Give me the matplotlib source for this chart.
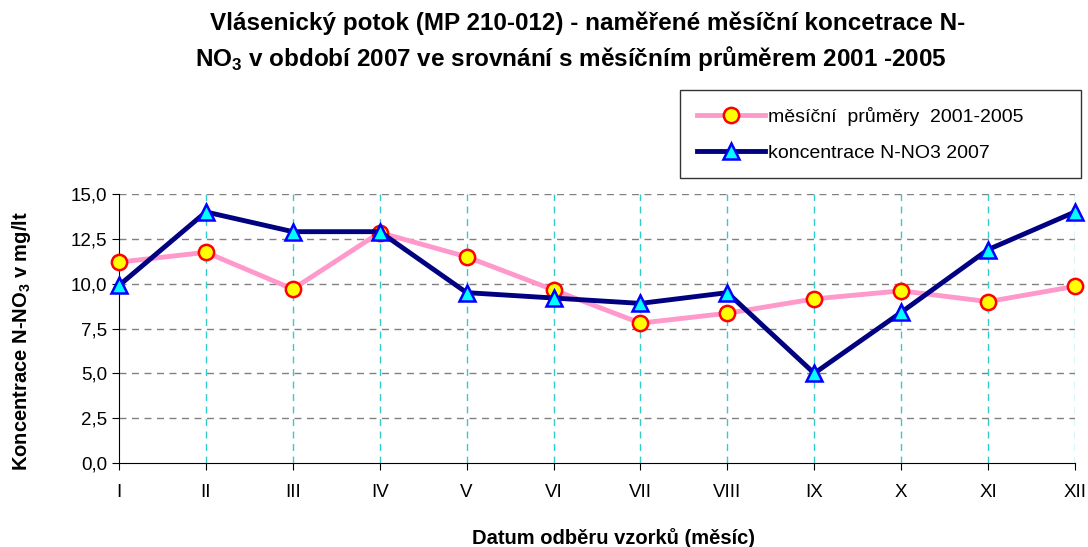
import matplotlib.pyplot as plt
import numpy as np
from matplotlib.ticker import FuncFormatter

plt.rcParams['font.family'] = ['Liberation Sans', 'DejaVu Sans']
plt.rcParams['mathtext.fontset'] = 'custom'
plt.rcParams['mathtext.rm'] = 'Liberation Sans'
plt.rcParams['mathtext.bf'] = 'Liberation Sans:bold'

mesice = ['I', 'II', 'III', 'IV', 'V', 'VI', 'VII', 'VIII', 'IX', 'X', 'XI', 'XII']
prumer_2001_2005 = [11.2, 11.75, 9.7, 12.85, 11.5, 9.65, 7.8, 8.35, 9.15, 9.6, 9.0, 9.85]
konc_2007 = [9.9, 14.0, 12.9, 12.9, 9.5, 9.2, 8.9, 9.5, 5.0, 8.4, 11.9, 14.0]
yticks = [0, 2.5, 5, 7.5, 10, 12.5, 15]

fig = plt.figure(figsize=(10.88, 5.47), dpi=100)
ax = fig.add_axes([0.1094, 0.1536, 0.8786, 0.4917])

x = np.arange(len(mesice))
ax.plot(x, prumer_2001_2005, color='#FF99CC', lw=3.5, marker='o', ms=11,
        mfc='#FFFF00', mec='#FF0000', mew=1.8, clip_on=False, zorder=3,
        label='měsíční  průměry  2001-2005')
ax.plot(x, konc_2007, color='#000080', lw=3.5, marker='^', ms=12,
        mfc='#00FFFF', mec='#0000FF', mew=1.8, clip_on=False, zorder=4,
        label='koncentrace N-NO3 2007')

ax.set_xlim(0, len(mesice) - 1)
ax.set_ylim(0, 15)
ax.set_xticks(x)
ax.set_xticklabels(mesice)
ax.set_yticks(yticks)
ax.yaxis.set_major_formatter(FuncFormatter(lambda v, p: f'{v:.1f}'.replace('.', ',')))
ax.tick_params(axis='both', labelsize=13.5, direction='out', length=5, color='black')
ax.tick_params(axis='x', pad=10)

for v in yticks[1:]:
    ax.axhline(v, color='#808080', lw=1, ls=(0, (5, 4)), zorder=1)
for xi in x[1:]:
    ax.axvline(xi, color='#33CCCC', lw=1, ls=(0, (5, 4)), zorder=1)

ax.spines['top'].set_visible(False)
ax.spines['right'].set_visible(False)

ax.set_ylabel('Koncentrace N-NO$_\\mathbf{3}$ v mg/lt', fontsize=14.5, fontweight='bold')
ax.yaxis.set_label_coords(-0.090, 0.454)
ax.set_xlabel('Datum odběru vzorků (měsíc)', fontsize=14.5, fontweight='bold')
ax.xaxis.set_label_coords(0.517, -0.24)

fig.text(0.54, 0.958, 'Vlásenický potok (MP 210-012) - naměřené měsíční koncetrace N-',
         ha='center', va='center', fontsize=17.5, fontweight='bold')
fig.text(0.525, 0.893, 'NO$_\\mathbf{3}$ v období 2007 ve srovnání s měsíčním průměrem 2001 -2005',
         ha='center', va='center', fontsize=17.5, fontweight='bold')

leg = fig.legend(loc='upper left', bbox_to_anchor=(0.625, 0.835, 0.369, 0.0), mode='expand',
                 bbox_transform=fig.transFigure, borderaxespad=0,
                 fontsize=14, frameon=True, fancybox=False, edgecolor='black',
                 handlelength=3.5, handletextpad=0.2, borderpad=0.85, labelspacing=0.95)
leg.get_frame().set_linewidth(1)

fig.savefig('out.png', dpi=100)
